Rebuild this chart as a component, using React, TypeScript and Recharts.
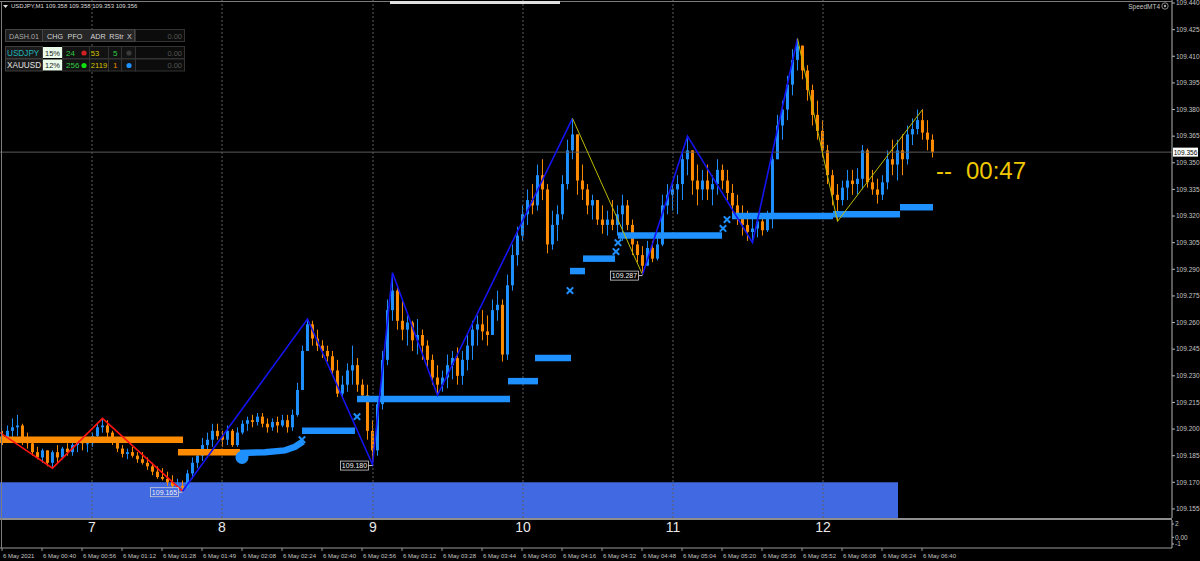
import React from "react";
import {
  Bar,
  ComposedChart,
  Line,
  ReferenceArea,
  ReferenceDot,
  ReferenceLine,
  XAxis,
  YAxis,
} from "recharts";

// USDJPY M1, 6 May 2021. One slot = two one-minute bars.
const firstOpen = 109.196;
const closes = [
  109.194, 109.199, 109.201, 109.202, 109.194, 109.192, 109.187, 109.184, 109.188, 109.181,
  109.187, 109.184, 109.189, 109.187, 109.191, 109.193, 109.192, 109.192, 109.196, 109.201,
  109.202, 109.198, 109.193, 109.189, 109.186, 109.187, 109.185, 109.183, 109.181, 109.179,
  109.176, 109.173, 109.172, 109.17, 109.168, 109.168, 109.167, 109.175, 109.181, 109.185,
  109.191, 109.194, 109.199, 109.196, 109.194, 109.199, 109.191, 109.198, 109.203, 109.205,
  109.204, 109.207, 109.203, 109.201, 109.204, 109.202, 109.205, 109.201, 109.208, 109.222,
  109.244, 109.259, 109.251, 109.247, 109.244, 109.241, 109.233, 109.22, 109.225, 109.233,
  109.236, 109.225, 109.219, 109.199, 109.188, 109.214, 109.239, 109.267, 109.278, 109.261,
  109.256, 109.26, 109.25, 109.253, 109.247, 109.239, 109.229, 109.225, 109.229, 109.236,
  109.24, 109.23, 109.239, 109.247, 109.256, 109.259, 109.255, 109.253, 109.267, 109.27,
  109.242, 109.281, 109.298, 109.309, 109.321, 109.329, 109.326, 109.343, 109.335, 109.304,
  109.315, 109.321, 109.338, 109.357, 109.366, 109.34, 109.335, 109.326, 109.329, 109.318,
  109.315, 109.318, 109.315, 109.321, 109.326, 109.315, 109.304, 109.298, 109.292, 109.302,
  109.296, 109.304, 109.326, 109.332, 109.335, 109.338, 109.352, 109.357, 109.34, 109.335,
  109.34, 109.335, 109.338, 109.346, 109.34, 109.333, 109.326, 109.321, 109.315, 109.311,
  109.313, 109.317, 109.312, 109.319, 109.352, 109.371, 109.38, 109.394, 109.408, 109.416,
  109.402, 109.391, 109.377, 109.368, 109.357, 109.343, 109.332, 109.329, 109.336, 109.34,
  109.338, 109.341, 109.357, 109.339, 109.335, 109.332, 109.339, 109.352, 109.349, 109.357,
  109.352, 109.366, 109.369, 109.374, 109.367, 109.363, 109.356,
];
const highs = [
  109.199, 109.202, 109.206, 109.208, 109.203, 109.198, 109.194, 109.19, 109.189, 109.188,
  109.188, 109.191, 109.19, 109.192, 109.194, 109.195, 109.195, 109.194, 109.198, 109.203,
  109.206, 109.205, 109.199, 109.194, 109.191, 109.189, 109.19, 109.187, 109.187, 109.184,
  109.181, 109.179, 109.178, 109.176, 109.174, 109.172, 109.171, 109.177, 109.184, 109.187,
  109.195, 109.198, 109.203, 109.203, 109.199, 109.202, 109.2, 109.201, 109.205, 109.207,
  109.208, 109.209, 109.209, 109.206, 109.206, 109.207, 109.208, 109.208, 109.211, 109.226,
  109.247, 109.262, 109.261, 109.256, 109.25, 109.247, 109.244, 109.239, 109.23, 109.237,
  109.247, 109.24, 109.228, 109.225, 109.205, 109.216, 109.244, 109.273, 109.288, 109.281,
  109.273, 109.264, 109.261, 109.262, 109.256, 109.25, 109.242, 109.236, 109.233, 109.242,
  109.244, 109.246, 109.244, 109.253, 109.261, 109.264, 109.267, 109.264, 109.273, 109.278,
  109.273, 109.287, 109.304, 109.314, 109.326, 109.335, 109.338, 109.349, 109.352, 109.338,
  109.323, 109.326, 109.343, 109.363, 109.375, 109.366, 109.349, 109.338, 109.332, 109.329,
  109.326, 109.323, 109.329, 109.326, 109.332, 109.329, 109.318, 109.306, 109.303, 109.306,
  109.306, 109.308, 109.332, 109.338, 109.34, 109.343, 109.357, 109.365, 109.357, 109.349,
  109.346, 109.349, 109.343, 109.352, 109.349, 109.346, 109.338, 109.332, 109.326, 109.323,
  109.321, 109.319, 109.321, 109.323, 109.357, 109.377, 109.385, 109.399, 109.414, 109.42,
  109.416, 109.405, 109.394, 109.385, 109.374, 109.36, 109.346, 109.338, 109.34, 109.346,
  109.346, 109.347, 109.36, 109.358, 109.346, 109.341, 109.343, 109.357, 109.363, 109.363,
  109.366, 109.371, 109.375, 109.38, 109.38, 109.374, 109.366,
];
const lows = [
  109.191, 109.194, 109.195, 109.196, 109.191, 109.189, 109.185, 109.183, 109.181, 109.179,
  109.178, 109.181, 109.183, 109.185, 109.185, 109.187, 109.188, 109.187, 109.19, 109.194,
  109.198, 109.195, 109.191, 109.187, 109.184, 109.183, 109.184, 109.181, 109.18, 109.177,
  109.174, 109.172, 109.171, 109.168, 109.167, 109.166, 109.165, 109.167, 109.172, 109.178,
  109.182, 109.188, 109.19, 109.194, 109.19, 109.191, 109.19, 109.19, 109.197, 109.199,
  109.201, 109.202, 109.201, 109.198, 109.199, 109.198, 109.201, 109.198, 109.199, 109.207,
  109.222, 109.244, 109.247, 109.244, 109.24, 109.238, 109.23, 109.218, 109.218, 109.221,
  109.225, 109.221, 109.216, 109.194, 109.18, 109.185, 109.211, 109.236, 109.261, 109.256,
  109.25, 109.247, 109.244, 109.242, 109.239, 109.234, 109.225, 109.219, 109.221, 109.223,
  109.228, 109.225, 109.225, 109.233, 109.239, 109.247, 109.25, 109.247, 109.253, 109.261,
  109.238, 109.239, 109.278, 109.292, 109.306, 109.315, 109.321, 109.323, 109.329, 109.299,
  109.301, 109.306, 109.318, 109.335, 109.352, 109.332, 109.329, 109.321, 109.318, 109.315,
  109.31, 109.309, 109.312, 109.309, 109.306, 109.312, 109.298, 109.294, 109.287, 109.292,
  109.294, 109.295, 109.303, 109.321, 109.323, 109.321, 109.329, 109.343, 109.332, 109.326,
  109.329, 109.329, 109.326, 109.332, 109.335, 109.329, 109.321, 109.315, 109.309, 109.306,
  109.305, 109.308, 109.309, 109.311, 109.313, 109.352, 109.363, 109.374, 109.388, 109.402,
  109.397, 109.385, 109.371, 109.363, 109.353, 109.338, 109.326, 109.317, 109.326, 109.329,
  109.332, 109.332, 109.335, 109.336, 109.332, 109.327, 109.329, 109.335, 109.343, 109.34,
  109.343, 109.349, 109.36, 109.366, 109.363, 109.357, 109.353,
];

const priceTicks = [
  109.155, 109.17, 109.185, 109.2, 109.215, 109.23, 109.245, 109.26, 109.275, 109.29,
  109.305, 109.32, 109.335, 109.35, 109.365, 109.38, 109.395, 109.41, 109.425, 109.44,
];
const lastPrice = 109.356;
const countdown = "00:47";
const header = "USDJPY,M1  109.358 109.358 109.353 109.356";

// zigzag swings (slot, price)
const zigRed = [
  { slot: 0, price: 109.198 },
  { slot: 10.5, price: 109.178 },
  { slot: 20.5, price: 109.206 },
  { slot: 36.5, price: 109.165 },
];
const zigBlueA = [
  { slot: 36.5, price: 109.165 },
  { slot: 61.5, price: 109.262 },
  { slot: 74.5, price: 109.18 },
  { slot: 78.5, price: 109.288 },
  { slot: 87.5, price: 109.219 },
  { slot: 114.5, price: 109.375 },
];
const zigYellowA = [
  { slot: 114.5, price: 109.375 },
  { slot: 128.5, price: 109.287 },
];
const zigBlueB = [
  { slot: 128.5, price: 109.287 },
  { slot: 137.5, price: 109.365 },
  { slot: 150.5, price: 109.305 },
  { slot: 159.5, price: 109.42 },
];
const zigYellowB = [
  { slot: 159.5, price: 109.42 },
  { slot: 167.5, price: 109.317 },
  { slot: 184.5, price: 109.38 },
];
const swingLabels = [
  { slot: 36.5, price: 109.165 },
  { slot: 74.5, price: 109.18 },
  { slot: 128.5, price: 109.287 },
];

// trailing stop levels [fromSlot, toSlot, price]
const sellStops = [
  [0, 36.6, 109.194],
  [35.6, 48, 109.187],
];
const buyStops = [
  [60.4, 71, 109.199],
  [71.4, 102, 109.217],
  [101.6, 107.6, 109.227],
  [107, 114.2, 109.24],
  [114, 117, 109.289],
  [116.6, 123, 109.296],
  [123.6, 144.4, 109.309],
  [146.4, 166.6, 109.32],
  [166.6, 180, 109.321],
  [180, 186.6, 109.325],
];
const buyStopRise = [
  { slot: 48, price: 109.1865 },
  { slot: 53, price: 109.187 },
  { slot: 57, price: 109.188 },
  { slot: 59, price: 109.19 },
  { slot: 60.6, price: 109.193 },
];
const stopFlips = [
  { slot: 60.4, price: 109.194 },
  { slot: 71.4, price: 109.207 },
  { slot: 114, price: 109.278 },
  { slot: 123.2, price: 109.3 },
  { slot: 123.6, price: 109.305 },
  { slot: 144.6, price: 109.313 },
  { slot: 145.4, price: 109.318 },
];
const flipDot = { slot: 48.4, price: 109.184 };

const demandZone = { from: 0, to: 179.6, top: 109.17 };
const hourMarks = [
  { slot: 18.4, label: "7" },
  { slot: 44.4, label: "8" },
  { slot: 74.6, label: "9" },
  { slot: 104.6, label: "10" },
  { slot: 134.6, label: "11" },
  { slot: 164.6, label: "12" },
];
const timeLabels = [
  "6 May 2021", "6 May 00:40", "6 May 00:56", "6 May 01:12", "6 May 01:28", "6 May 01:49",
  "6 May 02:08", "6 May 02:24", "6 May 02:40", "6 May 02:56", "6 May 03:12", "6 May 03:28",
  "6 May 03:44", "6 May 04:00", "6 May 04:16", "6 May 04:32", "6 May 04:48", "6 May 05:04",
  "6 May 05:20", "6 May 05:36", "6 May 05:52", "6 May 06:08", "6 May 06:24", "6 May 06:40",
];
const timeTicks = timeLabels.map((_, k) => 0.4 + 8 * k);

const dashHeaders = [
  { text: "CHG", x: 55 },
  { text: "PFO", x: 75 },
  { text: "ADR", x: 98 },
  { text: "RStr", x: 116.5 },
  { text: "X", x: 129.5 },
];
const dashRows = [
  { sym: "USDJPY", symColor: "#1fb3b8", chg: "15%", pfo: "24", pfoDot: "#d02020", adr: "53", rstr: "5", rstrColor: "#2ecc40", dot: "#3a3a3a", val: "0.00" },
  { sym: "XAUUSD", symColor: "#e4e4e4", chg: "12%", pfo: "256", pfoDot: "#10e010", adr: "2119", rstr: "1", rstrColor: "#e88a00", dot: "#1e90ff", val: "0.00" },
];

const BULL = "#1e90ff";
const BEAR = "#ff8c00";
const FONT = "'Liberation Sans', Arial, sans-serif";
const SLOT_MAX = 234.4;
const Y_MAX = 109.4417;
const Y_MIN = 109.1499;

const candles = closes.map((close, i) => ({
  slot: i + 0.5,
  open: i === 0 ? firstOpen : closes[i - 1],
  high: highs[i],
  low: lows[i],
  close,
  range: [lows[i], highs[i]],
}));

function Candle(props: any) {
  const { x, y, width, height, payload } = props;
  if (!payload) return null;
  const top = Math.min(y, y + height);
  const h = Math.abs(height);
  const span = payload.high - payload.low || 1e-9;
  const py = (v: number) => top + ((payload.high - v) / span) * h;
  const up = payload.close >= payload.open;
  const color = up ? BULL : BEAR;
  const cx = x + width / 2;
  const b0 = py(Math.max(payload.open, payload.close));
  const b1 = py(Math.min(payload.open, payload.close));
  return (
    <g>
      <line x1={cx} x2={cx} y1={top} y2={top + h} stroke={color} strokeWidth={1} />
      <rect x={cx - 1.5} y={b0} width={3} height={Math.max(1, b1 - b0)} fill={color} />
    </g>
  );
}

const XMark = ({ cx, cy }: any) => (
  <g stroke={BULL} strokeWidth={2}>
    <line x1={cx - 3.2} y1={cy - 3.2} x2={cx + 3.2} y2={cy + 3.2} />
    <line x1={cx - 3.2} y1={cy + 3.2} x2={cx + 3.2} y2={cy - 3.2} />
  </g>
);

const SwingTag = ({ cx, cy, text }: any) => (
  <g>
    <line x1={cx - 4} x2={cx} y1={cy + 1} y2={cy + 1} stroke="#c8c8c8" />
    <rect x={cx - 32} y={cy - 3.5} width={28} height={9} fill="none" stroke="#d0d0d0" strokeWidth={0.8} />
    <text x={cx - 18} y={cy + 1.2} textAnchor="middle" dominantBaseline="central" fontSize={7} fill="#f2f2f2" fontFamily={FONT}>
      {text}
    </text>
  </g>
);

const PriceTag = (props: any) => {
  const { viewBox } = props;
  const y = viewBox.y;
  const x = viewBox.x + viewBox.width;
  return (
    <g>
      <rect x={x + 1} y={y - 4.5} width={25} height={9} fill="#ffffff" />
      <text x={x + 13.5} y={y} textAnchor="middle" dominantBaseline="central" fontSize={6.5} fill="#000" fontFamily={FONT}>
        {lastPrice.toFixed(3)}
      </text>
    </g>
  );
};

const TimeTick = (props: any) => {
  const { x, y, payload, index } = props;
  const k = typeof index === "number" ? index : timeTicks.indexOf(payload.value);
  return (
    <text x={x + 1} y={y + 5} fontSize={6} fill="#c4c4c4" fontFamily={FONT} textAnchor="start">
      {timeLabels[k]}
    </text>
  );
};

function Dashboard() {
  return (
    <svg width={200} height={80} style={{ position: "absolute", left: 0, top: 0 }} fontFamily={FONT}>
      <polygon points="3,5 8,5 5.5,8" fill="#dddddd" />
      <text x={11} y={8.3} fontSize={6} fill="#dcdcdc">{header}</text>
      <rect x={5.5} y={29.5} width={37} height={12} fill="#1d1d1d" stroke="#444" />
      <text x={24} y={36} fontSize={7.2} fill="#a8a8a8" textAnchor="middle" dominantBaseline="central">DASH.01</text>
      <rect x={42.5} y={29.5} width={92} height={12} fill="#262626" stroke="#444" />
      {dashHeaders.map((h) => (
        <text key={h.text} x={h.x} y={36} fontSize={7.2} fill="#d4d4d4" textAnchor="middle" dominantBaseline="central">{h.text}</text>
      ))}
      <rect x={135.5} y={29.5} width={49} height={12} fill="#0c0c0c" stroke="#333" />
      <text x={182} y={36} fontSize={7.5} fill="#555" textAnchor="end" dominantBaseline="central">0.00</text>
      {dashRows.map((r, k) => {
        const top = 46.5 + k * 12.5;
        const cy = top + 6.5;
        return (
          <g key={r.sym}>
            <rect x={5.5} y={top} width={37} height={12} fill="#1a1a1a" stroke="#3c3c3c" />
            <text x={7} y={cy} fontSize={8.2} fill={r.symColor} dominantBaseline="central">{r.sym}</text>
            <rect x={43} y={top + 0.5} width={19} height={11} fill="#eafbea" />
            <text x={52.5} y={cy} fontSize={7.5} fill="#222" textAnchor="middle" dominantBaseline="central">{r.chg}</text>
            <rect x={62.5} y={top} width={27} height={12} fill="#121212" stroke="#333" />
            <text x={66} y={cy} fontSize={8} fill="#2ecc40" dominantBaseline="central">{r.pfo}</text>
            <circle cx={84} cy={cy} r={2.6} fill={r.pfoDot} />
            <rect x={89.5} y={top} width={19} height={12} fill="#121212" stroke="#333" />
            <text x={90.8} y={cy} fontSize={7.6} fill="#d8c400" dominantBaseline="central">{r.adr}</text>
            <rect x={108.5} y={top} width={13} height={12} fill="#121212" stroke="#333" />
            <text x={113} y={cy} fontSize={8} fill={r.rstrColor} dominantBaseline="central">{r.rstr}</text>
            <rect x={121.5} y={top} width={14} height={12} fill="#121212" stroke="#333" />
            <circle cx={129} cy={cy} r={2.6} fill={r.dot} />
            <rect x={135.5} y={top} width={49} height={12} fill="#0c0c0c" stroke="#333" />
            <text x={182} y={cy} fontSize={7.5} fill="#555" textAnchor="end" dominantBaseline="central">{r.val}</text>
          </g>
        );
      })}
    </svg>
  );
}

export default function App() {
  return (
    <div
      style={{
        position: "fixed",
        left: 0,
        top: 0,
        width: 1200,
        height: 561,
        background: "#000",
        overflow: "hidden",
        fontFamily: FONT,
      }}
    >
      <div style={{ position: "absolute", left: 0, top: 0 }}>
        <ComposedChart width={1200} height={518} data={candles} margin={{ top: 0, right: 0, bottom: 0, left: 0 }}>
          <XAxis type="number" dataKey="slot" domain={[0, SLOT_MAX]} allowDataOverflow hide />
          <YAxis
            orientation="right"
            type="number"
            domain={[Y_MIN, Y_MAX]}
            allowDataOverflow
            ticks={priceTicks}
            interval={0}
            width={28}
            tickSize={3}
            tickMargin={1}
            axisLine={{ stroke: "#b4b4b4" }}
            tickLine={{ stroke: "#b4b4b4" }}
            tick={{ fill: "#c4c4c4", fontSize: 6.5, fontFamily: FONT }}
            tickFormatter={(v: number) => v.toFixed(3)}
          />
          <ReferenceArea
            x1={demandZone.from}
            x2={demandZone.to}
            y1={Y_MIN}
            y2={demandZone.top}
            fill="#4169e1"
            fillOpacity={1}
            stroke="none"
            ifOverflow="visible"
          />
          {hourMarks.map((h) => (
            <ReferenceLine key={h.label} x={h.slot} stroke="#5e5e5e" strokeDasharray="2 2" />
          ))}
          <ReferenceLine y={lastPrice} stroke="#5a5a5a" label={<PriceTag />} />
          <Bar dataKey="range" barSize={3} shape={<Candle />} isAnimationActive={false} />
          {sellStops.map(([a, b, p], k) => (
            <ReferenceLine key={"s" + k} segment={[{ x: a, y: p }, { x: b, y: p }]} stroke={BEAR} strokeWidth={6.5} />
          ))}
          {buyStops.map(([a, b, p], k) => (
            <ReferenceLine key={"b" + k} segment={[{ x: a, y: p }, { x: b, y: p }]} stroke={BULL} strokeWidth={6.5} />
          ))}
          <Line data={buyStopRise} dataKey="price" stroke={BULL} strokeWidth={6.5} dot={false} isAnimationActive={false} type="linear" />
          {stopFlips.map((f, k) => (
            <ReferenceDot key={"f" + k} x={f.slot} y={f.price} shape={<XMark />} />
          ))}
          <ReferenceDot x={flipDot.slot} y={flipDot.price} r={6.5} fill={BULL} stroke="none" />
          <Line data={zigRed} dataKey="price" stroke="#ff1414" strokeWidth={1.6} dot={false} isAnimationActive={false} type="linear" />
          <Line data={zigBlueA} dataKey="price" stroke="#1414f0" strokeWidth={1.6} dot={false} isAnimationActive={false} type="linear" />
          <Line data={zigYellowA} dataKey="price" stroke="#bcbc00" strokeWidth={1} dot={false} isAnimationActive={false} type="linear" />
          <Line data={zigBlueB} dataKey="price" stroke="#1414f0" strokeWidth={1.6} dot={false} isAnimationActive={false} type="linear" />
          <Line data={zigYellowB} dataKey="price" stroke="#bcbc00" strokeWidth={1} dot={false} isAnimationActive={false} type="linear" />
          {swingLabels.map((s) => (
            <ReferenceDot
              key={s.slot}
              x={s.slot}
              y={s.price}
              shape={(p: any) => <SwingTag cx={p.cx} cy={p.cy} text={s.price.toFixed(3)} />}
            />
          ))}
          <ReferenceDot
            x={187.2}
            y={109.3458}
            shape={(p: any) => (
              <g fill="#f0c800" fontFamily={FONT}>
                <text x={p.cx} y={p.cy} fontSize={24} dominantBaseline="central">--</text>
                <text x={p.cx + 30} y={p.cy} fontSize={24} dominantBaseline="central">{countdown}</text>
              </g>
            )}
          />
        </ComposedChart>
      </div>
      <div style={{ position: "absolute", left: 0, top: 518, width: 1172, height: 2, background: "#8e8e8e" }} />
      <div style={{ position: "absolute", left: 0, top: 520 }}>
        <ComposedChart width={1200} height={41} data={hourMarks} margin={{ top: 0, right: 0, bottom: 0, left: 0 }}>
          <XAxis
            type="number"
            dataKey="slot"
            domain={[0, SLOT_MAX]}
            allowDataOverflow
            ticks={timeTicks}
            interval={0}
            height={13}
            tickSize={3}
            axisLine={{ stroke: "#9a9a9a" }}
            tickLine={{ stroke: "#9a9a9a" }}
            tick={<TimeTick />}
          />
          <YAxis
            orientation="right"
            type="number"
            domain={[-1.6, 2.6]}
            allowDataOverflow
            ticks={[2, 0, -1]}
            interval={0}
            width={28}
            tickSize={2}
            tickMargin={1}
            axisLine={{ stroke: "#b4b4b4" }}
            tickLine={{ stroke: "#b4b4b4" }}
            tick={{ fill: "#c4c4c4", fontSize: 6.5, fontFamily: FONT }}
            tickFormatter={(v: number) => (v === 0 ? "0.00" : String(v))}
          />
          {hourMarks.map((h) => (
            <ReferenceDot
              key={h.label}
              x={h.slot}
              y={1.55}
              shape={(p: any) => (
                <text x={p.cx} y={p.cy} fontSize={14} fill="#e8e8e8" textAnchor="middle" dominantBaseline="central" fontFamily={FONT}>
                  {h.label}
                </text>
              )}
            />
          ))}
        </ComposedChart>
      </div>
      <div style={{ position: "absolute", left: 0, top: 1, width: 1172, height: 1, background: "#7c7c7c" }} />
      <div style={{ position: "absolute", left: 390, top: 1, width: 170, height: 3, background: "#e0e0e0" }} />
      <div style={{ position: "absolute", left: 1, top: 1, width: 1, height: 547, background: "#7c7c7c" }} />
      <Dashboard />
      <svg width={80} height={14} style={{ position: "absolute", left: 1100, top: 0 }} fontFamily={FONT}>
        <text x={60} y={8.5} fontSize={6.5} fill="#c4c4c4" textAnchor="end">SpeedMT4</text>
        <circle cx={65} cy={6} r={3.2} fill="none" stroke="#aaa" strokeWidth={0.8} />
        <circle cx={65} cy={6} r={1.2} fill="#aaa" />
      </svg>
    </div>
  );
}
